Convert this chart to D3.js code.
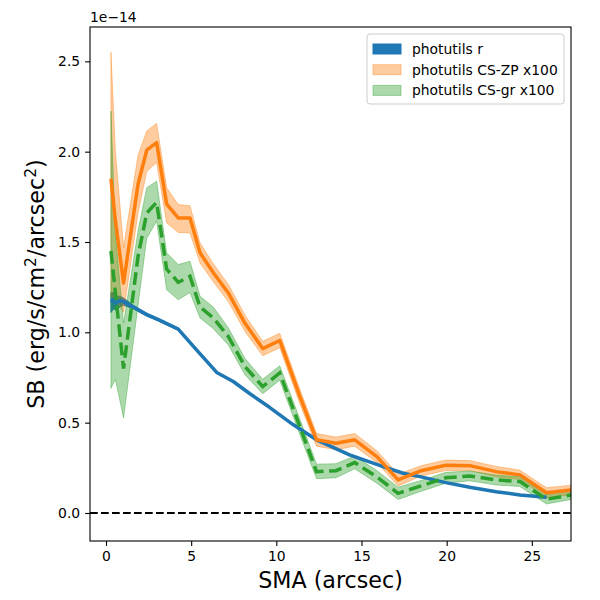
<!DOCTYPE html>
<html>
<head>
<meta charset="utf-8">
<script src="https://cdn.jsdelivr.net/npm/d3@7"></script>
<style>
  html, body { margin: 0; padding: 0; background: #fff; }
  svg { display: block; font-family: "DejaVu Sans", sans-serif; }
</style>
</head>
<body>
<svg id="chart" width="600" height="600"></svg>
<script>
// ---- data (units of 1e-14 erg/s/cm^2/arcsec^2) ----
const sma = [0.29, 0.55, 1.03, 1.88, 2.39, 2.97, 3.56, 4.24, 4.93, 5.52, 6.30, 7.18, 8.16, 9.20, 10.20, 11.38, 12.36, 13.50, 14.60, 15.90, 17.15, 18.50, 19.95, 21.36, 22.90, 24.30, 25.86, 27.30];

const zpMid = [1.85, 1.62, 1.273, 1.82, 2.008, 2.05, 1.71, 1.633, 1.633, 1.44, 1.33, 1.218, 1.05, 0.91, 0.955, 0.645, 0.405, 0.386, 0.405, 0.312, 0.183, 0.234, 0.264, 0.262, 0.229, 0.211, 0.112, 0.127];
const zpLo  = [1.20, 1.18, 1.11, 1.66, 1.89, 1.94, 1.606, 1.553, 1.55, 1.384, 1.28, 1.17, 1.005, 0.87, 0.915, 0.605, 0.37, 0.35, 0.37, 0.28, 0.15, 0.205, 0.235, 0.235, 0.20, 0.185, 0.085, 0.10];
const zpHi  = [2.55, 2.00, 1.47, 1.98, 2.115, 2.156, 1.80, 1.707, 1.70, 1.495, 1.38, 1.265, 1.095, 0.95, 0.995, 0.685, 0.44, 0.42, 0.44, 0.345, 0.215, 0.262, 0.293, 0.29, 0.258, 0.237, 0.14, 0.154];

const grMid = [1.45, 1.22, 0.80, 1.42, 1.66, 1.72, 1.35, 1.277, 1.31, 1.14, 1.08, 0.977, 0.81, 0.70, 0.775, 0.478, 0.229, 0.234, 0.279, 0.20, 0.109, 0.15, 0.195, 0.205, 0.183, 0.174, 0.076, 0.10];
const grLo  = [0.69, 0.74, 0.527, 1.15, 1.52, 1.615, 1.236, 1.18, 1.22, 1.08, 1.02, 0.93, 0.765, 0.66, 0.735, 0.435, 0.19, 0.195, 0.245, 0.165, 0.075, 0.12, 0.165, 0.178, 0.155, 0.147, 0.05, 0.075];
const grHi  = [2.225, 1.55, 1.05, 1.56, 1.80, 1.836, 1.44, 1.375, 1.393, 1.20, 1.14, 1.025, 0.855, 0.74, 0.815, 0.52, 0.27, 0.273, 0.315, 0.235, 0.143, 0.18, 0.225, 0.232, 0.21, 0.20, 0.102, 0.125];

const rSma = [0.29, 0.45, 0.62, 0.80, 1.03, 1.60, 2.39, 3.07, 4.24, 5.30, 6.50, 7.47, 8.45, 9.60, 11.00, 12.36, 14.30, 16.27, 17.45, 18.50, 19.95, 21.36, 22.90, 24.30, 25.86];
const rMid = [1.166, 1.18, 1.165, 1.175, 1.17, 1.14, 1.098, 1.07, 1.018, 0.904, 0.778, 0.728, 0.66, 0.585, 0.488, 0.405, 0.322, 0.257, 0.22, 0.20, 0.168, 0.142, 0.118, 0.10, 0.087];
const rLo  = [1.11, 1.13, 1.12, 1.14, 1.15, 1.13, 1.09, 1.063, 1.012, 0.899, 0.774, 0.724, 0.656, 0.581, 0.485, 0.402, 0.319, 0.254, 0.217, 0.197, 0.165, 0.139, 0.115, 0.097, 0.084];
const rHi  = [1.22, 1.22, 1.20, 1.20, 1.19, 1.15, 1.106, 1.077, 1.024, 0.909, 0.782, 0.732, 0.664, 0.589, 0.491, 0.408, 0.325, 0.26, 0.223, 0.203, 0.171, 0.145, 0.121, 0.103, 0.09];

const xTicks = [0, 5, 10, 15, 20, 25];
const yTicks = [0.0, 0.5, 1.0, 1.5, 2.0, 2.5];
const legendLabels = ["photutils r", "photutils CS-ZP x100", "photutils CS-gr x100"];

// ---- layout ----
const svg = d3.select("#chart");
const L = 90, R = 571, T = 27, B = 541;
const x = d3.scaleLinear().domain([-0.94, 27.3]).range([L, R]);
const y = d3.scaleLinear().domain([-0.155, 2.69]).range([B, T]);

const C = { blue: "#1f77b4", orange: "#ff7f0e", green: "#2ca02c" };

svg.append("defs").append("clipPath").attr("id", "clip")
  .append("rect").attr("x", L).attr("y", T).attr("width", R - L).attr("height", B - T);
const plot = svg.append("g").attr("clip-path", "url(#clip)");

function series(xs, mid, lo, hi) {
  return xs.map((v, i) => ({ x: v, m: mid[i], lo: lo[i], hi: hi[i] }));
}
const sR = series(rSma, rMid, rLo, rHi);
const sZ = series(sma, zpMid, zpLo, zpHi);
const sG = series(sma, grMid, grLo, grHi);

const area = d3.area().x(d => x(d.x)).y0(d => y(d.lo)).y1(d => y(d.hi));
const line = d3.line().x(d => x(d.x)).y(d => y(d.m));

// fills (below lines)
plot.append("path").datum(sR).attr("d", area).attr("fill", C.blue).attr("stroke", C.blue).attr("stroke-width", 1);
plot.append("path").datum(sZ).attr("d", area).attr("fill", C.orange).attr("fill-opacity", 0.4)
  .attr("stroke", C.orange).attr("stroke-opacity", 0.4).attr("stroke-width", 1);
plot.append("path").datum(sG).attr("d", area).attr("fill", C.green).attr("fill-opacity", 0.4)
  .attr("stroke", C.green).attr("stroke-opacity", 0.4).attr("stroke-width", 1);

// zero line
plot.append("line").attr("x1", L).attr("x2", R).attr("y1", y(0)).attr("y2", y(0))
  .attr("stroke", "#000").attr("stroke-width", 2.08).attr("stroke-dasharray", "7.7,3.3");

// lines
plot.append("path").datum(sR).attr("d", line).attr("fill", "none").attr("stroke", C.blue)
  .attr("stroke-width", 3.5).attr("stroke-linejoin", "round");
plot.append("path").datum(sZ).attr("d", line).attr("fill", "none").attr("stroke", C.orange)
  .attr("stroke-width", 3.5).attr("stroke-linejoin", "round");
plot.append("path").datum(sG).attr("d", line).attr("fill", "none").attr("stroke", C.green)
  .attr("stroke-width", 3.5).attr("stroke-dasharray", "12.8,5.6");

// axes
const xAxis = d3.axisBottom(x).tickValues(xTicks).tickFormat(d3.format("d")).tickSize(4.9).tickPadding(4.9);
const yAxis = d3.axisLeft(y).tickValues(yTicks).tickFormat(d3.format(".1f")).tickSize(4.9).tickPadding(4.9);
const gx = svg.append("g").attr("transform", `translate(0,${B})`).call(xAxis);
const gy = svg.append("g").attr("transform", `translate(${L},0)`).call(yAxis);
[gx, gy].forEach(g => {
  g.select(".domain").remove();
  g.selectAll(".tick line").attr("stroke", "#000").attr("stroke-width", 1.1);
  g.selectAll(".tick text").attr("fill", "#000").style("font-size", "13.9px").style("font-family", "DejaVu Sans");
});

// frame
svg.append("rect").attr("x", L).attr("y", T).attr("width", R - L).attr("height", B - T)
  .attr("fill", "none").attr("stroke", "#000").attr("stroke-width", 1.1);

// offset text
svg.append("text").attr("x", L).attr("y", T - 5).style("font-size", "13.9px").text("1e\u221214");

// axis labels
svg.append("text").attr("x", (L + R) / 2).attr("y", 588).attr("text-anchor", "middle")
  .style("font-size", "22.2px").text("SMA (arcsec)");

const yl = svg.append("text").attr("transform", `translate(44,${(T + B) / 2}) rotate(-90)`)
  .attr("text-anchor", "middle").style("font-size", "22.2px");
yl.append("tspan").text("SB (erg/s/cm");
yl.append("tspan").attr("dy", -8).style("font-size", "15.5px").text("2");
yl.append("tspan").attr("dy", 8).text("/arcsec");
yl.append("tspan").attr("dy", -8).style("font-size", "15.5px").text("2");
yl.append("tspan").attr("dy", 8).text(")");

// legend
const lg = svg.append("g");
const lgX = 367, lgY = 34, lgW = 197, lgH = 70;
lg.append("rect").attr("x", lgX).attr("y", lgY).attr("width", lgW).attr("height", lgH)
  .attr("rx", 3).attr("fill", "#fff").attr("fill-opacity", 0.8).attr("stroke", "#ccc").attr("stroke-width", 1);
const patchStyles = [
  { fill: C.blue, op: 1 },
  { fill: C.orange, op: 0.4 },
  { fill: C.green, op: 0.4 }
];
legendLabels.forEach((lab, i) => {
  const cy = 49 + i * 20.7;
  lg.append("rect").attr("x", 373).attr("y", cy - 5).attr("width", 28).attr("height", 10)
    .attr("fill", patchStyles[i].fill).attr("fill-opacity", patchStyles[i].op)
    .attr("stroke", patchStyles[i].fill).attr("stroke-opacity", patchStyles[i].op);
  lg.append("text").attr("x", 412).attr("y", cy).attr("dy", "0.35em")
    .style("font-size", "13.9px").text(lab);
});
</script>
</body>
</html>
